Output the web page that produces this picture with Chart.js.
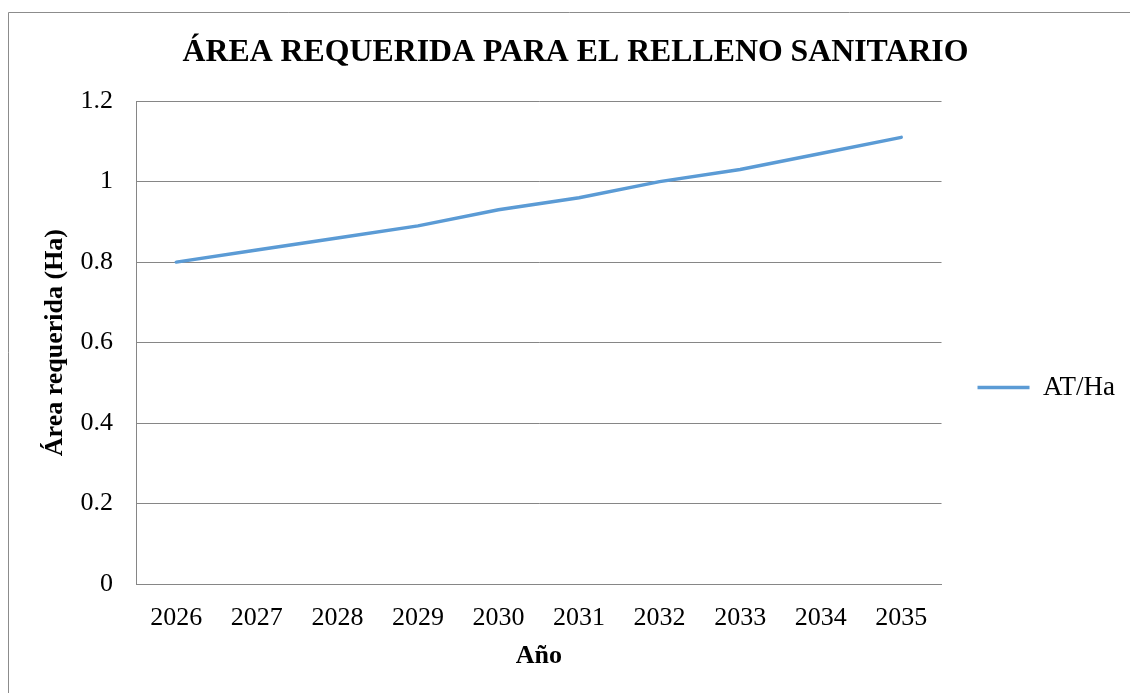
<!DOCTYPE html>
<html>
<head>
<meta charset="utf-8">
<script src="https://cdn.jsdelivr.net/npm/chart.js@4"></script>
<style>
html,body{margin:0;padding:0;background:#fff;overflow:hidden;}
#c{display:block;}
</style>
</head>
<body>
<canvas id="c" width="1130" height="693"></canvas>
<script>
const chartTitle = 'ÁREA REQUERIDA PARA EL RELLENO SANITARIO';
const years = ['2026','2027','2028','2029','2030','2031','2032','2033','2034','2035'];
const areaHa = [0.8, 0.83, 0.86, 0.89, 0.93, 0.96, 1.0, 1.03, 1.07, 1.11];
const seriesName = 'AT/Ha';
const xTitle = 'Año';
const yTitle = 'Área requerida (Ha)';
const yTicks = [0, 0.2, 0.4, 0.6, 0.8, 1, 1.2];

const serif = '"Liberation Serif", "Times New Roman", serif';
const blue = '#5B9BD5';
const grid = '#868686';

const framePlugin = {
  id: 'frame',
  beforeDraw(chart) {
    const ctx = chart.ctx;
    ctx.save();
    ctx.fillStyle = '#fff';
    ctx.fillRect(0, 0, chart.width, chart.height);
    ctx.strokeStyle = '#8c8c8c';
    ctx.lineWidth = 1;
    ctx.beginPath();
    ctx.moveTo(8.5, chart.height);
    ctx.lineTo(8.5, 12.5);
    ctx.lineTo(chart.width, 12.5);
    ctx.stroke();
    ctx.restore();
  }
};

new Chart(document.getElementById('c'), {
  type: 'line',
  data: {
    labels: years,
    datasets: [{
      label: seriesName,
      data: areaHa,
      borderColor: blue,
      backgroundColor: blue,
      borderWidth: 3.5,
      pointRadius: 0,
      pointHoverRadius: 0,
      tension: 0,
      fill: false,
      borderCapStyle: 'round'
    }]
  },
  plugins: [framePlugin],
  options: {
    responsive: false,
    animation: false,
    devicePixelRatio: 1,
    layout: { padding: { left: 26, right: 5, top: 0, bottom: 0 } },
    plugins: {
      title: {
        display: true,
        text: chartTitle,
        color: '#000',
        font: { family: serif, size: 31.8, weight: 'bold', lineHeight: 1.2 },
        padding: { top: 34, bottom: 29 }
      },
      legend: {
        display: true,
        position: 'right',
        align: 'center',
        title: { display: true, text: '', font: { size: 1, lineHeight: 1 }, padding: { top: 81, bottom: 0 } },
        labels: {
          color: '#000',
          font: { family: serif, size: 27 },
          usePointStyle: true,
          pointStyle: 'line',
          pointStyleWidth: 52,
          padding: 36
        }
      },
      tooltip: { enabled: false }
    },
    scales: {
      x: {
        offset: true,
        grid: { display: false, drawTicks: false },
        border: { display: true, color: grid, width: 1 },
        ticks: { color: '#000', font: { family: serif, size: 26 }, padding: 19, maxRotation: 0, autoSkip: false },
        title: { display: true, text: xTitle, color: '#000', font: { family: serif, size: 26, weight: 'bold', lineHeight: 1.2 }, padding: { top: 0, bottom: 21 } },
        afterFit: (s) => { s.height = 109; }
      },
      y: {
        min: 0,
        max: 1.2,
        afterBuildTicks: (s) => { s.ticks = yTicks.map(v => ({ value: v })); },
        grid: { display: true, color: grid, lineWidth: 1, drawTicks: false },
        border: { display: true, color: grid, width: 1 },
        ticks: { color: '#000', font: { family: serif, size: 26 }, padding: 23, callback: (v) => String(v) },
        title: { display: true, text: yTitle, color: '#000', font: { family: serif, size: 26, weight: 'bold', lineHeight: 1.2 }, padding: { top: 14, bottom: 0 } },
        afterFit: (s) => { s.width = 110; }
      }
    }
  }
});
</script>
</body>
</html>
